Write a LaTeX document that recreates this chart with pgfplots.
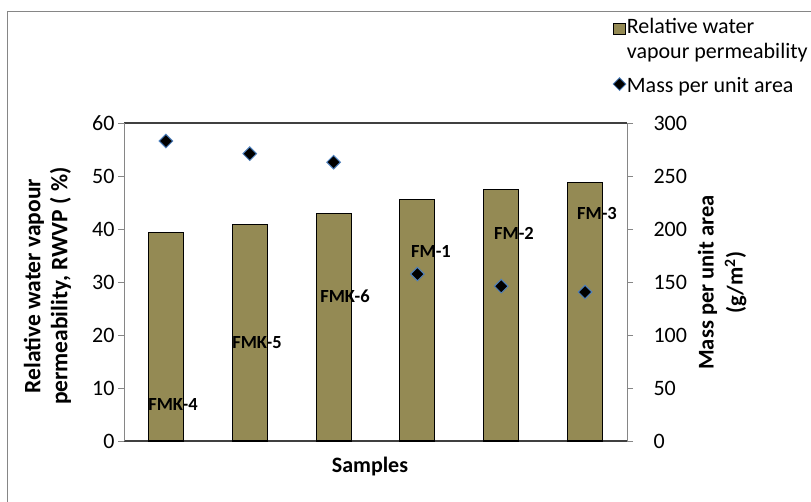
\documentclass[border=0pt]{standalone}
\usepackage{pgfplots}
\pgfplotsset{compat=1.18}
\usepackage{fontspec}
\setmainfont{Carlito}
\definecolor{barolive}{RGB}{148,138,84}
\definecolor{axgray}{RGB}{134,134,134}
\definecolor{axdark}{RGB}{64,64,64}
\definecolor{diaedge}{RGB}{79,129,189}
\begin{document}
\begin{tikzpicture}[x=1pt,y=1pt]
\path[use as bounding box] (0,0) rectangle (811,502);
\draw[axgray,line width=1pt] (7,0) -- (7,490) -- (811,490);
\begin{axis}[
  at={(124pt,61pt)}, anchor=south west,
  width=503pt, height=318pt, scale only axis,
  xmin=-0.5, xmax=5.5, ymin=0, ymax=60,
  ytick={0,10,...,60},
  xtick=\empty,
  separate axis lines,
  x axis line style={draw=axdark, line width=1.2pt},
  y axis line style={draw=axgray, line width=1pt},
  axis y line*=left,
  axis x line*=box,
  tick style={draw=axgray, line width=0.8pt},
  tick align=outside, major tick length=6pt,
  yticklabel style={font=\fontsize{22}{22}\selectfont},
  /pgf/number format/assume math mode=true,
  xlabel={\textbf{Samples}},
  xlabel style={font=\fontsize{22}{26}\selectfont, at={(axis description cs:0.489,-0.079)}, anchor=center},
  ylabel={\textbf{Relative water vapour}\\\textbf{permeability, RWVP ( \%)}},
  ylabel style={font=\fontsize{23.5}{27}\selectfont, align=center, at={(axis description cs:-0.152,0.487)}, anchor=center},
  clip=false,
]
\addplot[ybar, bar width=35pt, fill=barolive, draw=black, line width=1.1pt]
  coordinates {(0,39.4) (1,40.9) (2,43.0) (3,45.5) (4,47.4) (5,48.7)};
\begin{scope}[font=\fontsize{18.5}{18.5}\selectfont\bfseries]
\node at (axis cs:0.085,6.8) {FMK-4};
\node at (axis cs:1.087,18.5) {FMK-5};
\node at (axis cs:2.136,27.4) {FMK-6};
\node at (axis cs:3.162,35.7) {FM-1};
\node at (axis cs:4.152,39.2) {FM-2};
\node at (axis cs:5.142,43.0) {FM-3};
\end{scope}
\end{axis}
\begin{axis}[
  at={(124pt,61pt)}, anchor=south west,
  width=503pt, height=318pt, scale only axis,
  xmin=-0.5, xmax=5.5, ymin=0, ymax=300,
  ytick={0,50,...,300},
  xtick=\empty,
  axis y line*=right,
  axis x line=none,
  y axis line style={draw=axgray, line width=1pt},
  tick style={draw=axgray, line width=0.8pt},
  tick align=outside, major tick length=6pt,
  yticklabel style={font=\fontsize{22}{22}\selectfont, xshift=17pt},
  /pgf/number format/assume math mode=true,
  ylabel={\textbf{Mass per unit area}\\\textbf{(g/m\textsuperscript{2})}},
  ylabel style={font=\fontsize{22.5}{29}\selectfont, align=center, at={(axis description cs:1.189,0.498)}, anchor=center},
  legend style={at={(0.972,1.336)}, anchor=north west, draw=none, fill=none,
    font=\fontsize{22}{24}\selectfont, nodes={inner sep=0pt},
    row sep=0pt, column sep=1pt, inner sep=0pt},
  legend cell align=left,
  clip=false,
]
\addlegendimage{legend image code/.code={\draw[fill=barolive,draw=black,line width=0.8pt] (0pt,-8.5pt) rectangle (12pt,2.5pt);}}
\addlegendentry{\rule{0pt}{17pt}Relative water}
\addlegendimage{empty legend}
\addlegendentry{\rule{0pt}{24pt}vapour permeability}
\addplot[only marks, mark=square*, mark size=4.8pt, mark options={rotate=45, fill=black, draw=diaedge, line width=1pt},
  legend image code/.code={\draw[mark=square*, mark size=4.5pt, mark options={rotate=45, fill=black, draw=diaedge, line width=0.8pt}] plot coordinates {(6pt,-7pt)};}]
  coordinates {(0,283) (1,271) (2,263) (3,157.5) (4,146) (5,140.5)};
\addlegendentry{\rule{0pt}{32pt}Mass per unit area}
\end{axis}
\end{tikzpicture}
\end{document}
